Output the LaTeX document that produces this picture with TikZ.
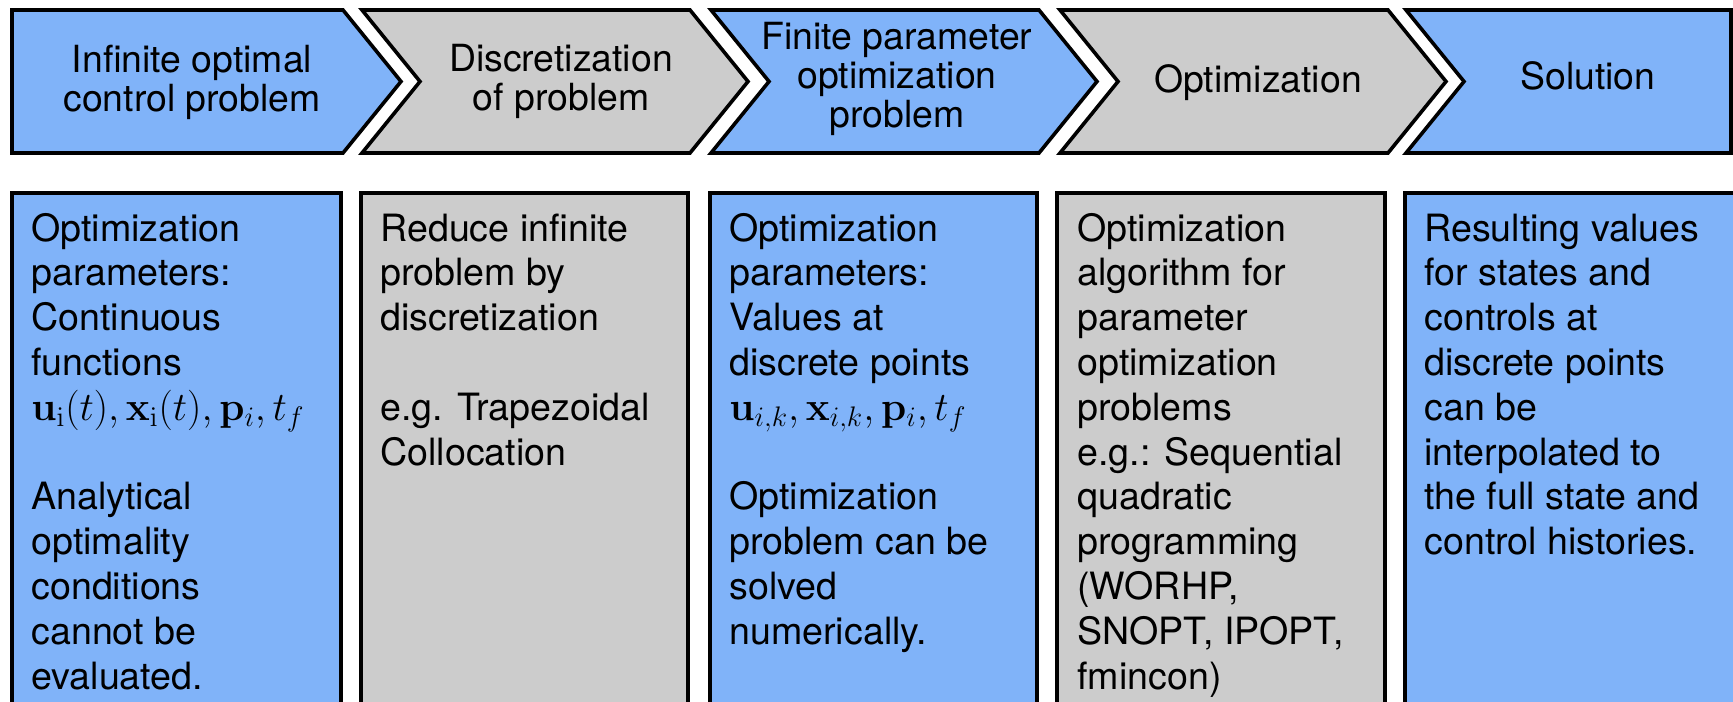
\documentclass[tikz,border=0pt]{standalone}
\usepackage{fix-cm}
\usepackage[no-math]{fontspec}
\usepackage{amsmath}
\setmainfont{TeX Gyre Heros}
\definecolor{stepblue}{RGB}{128,179,249}
\definecolor{stepgray}{RGB}{204,204,204}
\newcommand\mathline[1]{{\fontsize{20.2}{22.4}\selectfont$#1$}}

\begin{document}
\begin{tikzpicture}[x=0.5pt,y=-0.5pt,
  outline/.style={draw=black, line width=1.8pt, line join=miter},
  bluefill/.style={outline, fill=stepblue},
  grayfill/.style={outline, fill=stepgray},
  headtext/.style={anchor=base, inner sep=0pt, font=\fontsize{18.7}{19.5}\selectfont},
  bodytext/.style={anchor=base west, inner sep=0pt, font=\fontsize{18.8}{22.4}\selectfont}
]
\useasboundingbox (0,0) rectangle (1733,701);
\clip (0,0) rectangle (1733,701);

% process chevrons
\path[bluefill] (12,10) -- (343,10) -- (401,81.5) -- (343,153) -- (12,153) -- cycle;
\path[grayfill] (362,10) -- (690,10) -- (748,81.5) -- (690,153) -- (362,153) -- (420,81.5) -- cycle;
\path[bluefill] (711,10) -- (1039,10) -- (1097,81.5) -- (1039,153) -- (711,153) -- (769,81.5) -- cycle;
\path[grayfill] (1060,10) -- (1388,10) -- (1446,81.5) -- (1388,153) -- (1060,153) -- (1118,81.5) -- cycle;
\path[bluefill] (1406,10) -- (1731,10) -- (1731,153) -- (1406,153) -- (1464,81.5) -- cycle;

% chevron captions
\node[headtext] (h1) at (192,73) {\parbox[t]{200pt}{\centering Infinite optimal\\control problem}};
\node[headtext] (h2) at (561,72) {\parbox[t]{200pt}{\centering Discretization\\of problem}};
\node[headtext] (h3) at (897,50) {\parbox[t]{200pt}{\centering Finite parameter\\optimization\\problem}};
\node[headtext] (h4) at (1258,92) {\parbox[t]{200pt}{\centering Optimization}};
\node[headtext] (h5) at (1588,90) {\parbox[t]{200pt}{\centering Solution}};

% description boxes
\path[bluefill] (12,193) rectangle (341,760);
\path[grayfill] (361,193) rectangle (688,760);
\path[bluefill] (710,193) rectangle (1037,760);
\path[grayfill] (1057,193) rectangle (1385,760);
\path[bluefill] (1405,193) rectangle (1736,760);

\node[bodytext] (b1) at (31,241) {\parbox[t]{160pt}{\raggedright
  Optimization\\parameters:\\Continuous\\functions\\
  \mathline{\mathbf{u}_\mathrm{i}(t), \mathbf{x}_\mathrm{i}(t), \mathbf{p}_i, t_f}\\[22.4pt]
  Analytical\\optimality\\conditions\\cannot be\\evaluated.}};
\node[bodytext] (b2) at (380,241) {\parbox[t]{160pt}{\raggedright
  Reduce infinite\\problem by\\discretization\\[22.4pt]
  e.g. Trapezoidal\\Collocation}};
\node[bodytext] (b3) at (729,241) {\parbox[t]{160pt}{\raggedright
  Optimization\\parameters:\\Values at\\discrete points\\
  \mathline{\mathbf{u}_{i,k}, \mathbf{x}_{i,k}, \mathbf{p}_i, t_f}\\[22.4pt]
  Optimization\\problem can be\\solved\\numerically.}};
\node[bodytext] (b4) at (1077,241) {\parbox[t]{160pt}{\raggedright
  Optimization\\algorithm for\\parameter\\optimization\\problems\\
  e.g.: Sequential\\quadratic\\programming\\(WORHP,\\SNOPT, IPOPT,\\fmincon)}};
\node[bodytext] (b5) at (1424,241) {\parbox[t]{160pt}{\raggedright
  Resulting values\\for states and\\controls at\\discrete points\\can be\\interpolated to\\the full state and\\control histories.}};
\end{tikzpicture}
\end{document}
